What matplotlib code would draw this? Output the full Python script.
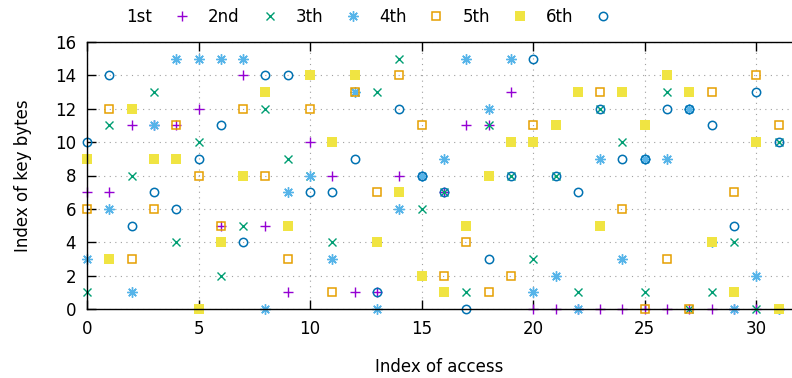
import numpy as np
import matplotlib
matplotlib.use("Agg")
import matplotlib.pyplot as plt

plt.rcParams['font.family'] = ['DejaVu Sans']
plt.rcParams['font.size'] = 12

access = list(range(32))

first = [7, 7, 11, 11, 11, 12, 5, 14, 5, 1, 10, 8, 1, 1, 8, 8,
         7, 11, 11, 13, 0, 0, 0, 0, 0, 0, 0, 0, 0, 0, 0, 0]
second = [1, 11, 8, 13, 4, 10, 2, 5, 12, 9, 8, 4, 13, 13, 15, 6,
          7, 1, 11, 8, 3, 8, 1, 12, 10, 1, 13, 0, 1, 4, 0, 10]
third = [3, 6, 1, 11, 15, 15, 15, 15, 0, 7, 8, 3, 13, 0, 6, 8,
         9, 15, 12, 15, 1, 2, 0, 9, 3, 9, 9, 12, 4, 0, 2, 0]
fourth = [6, 12, 3, 6, 11, 8, 5, 12, 8, 3, 12, 1, 13, 7, 14, 11,
          2, 4, 1, 2, 11, 11, 13, 13, 6, 0, 3, 0, 13, 7, 14, 11]
fifth = [9, 3, 12, 9, 9, 0, 4, 8, 13, 5, 14, 10, 14, 4, 7, 2,
         1, 5, 8, 10, 10, 11, 13, 5, 13, 11, 14, 13, 4, 1, 10, 0]
sixth = [10, 14, 5, 7, 6, 9, 11, 4, 14, 14, 7, 7, 9, 1, 12, 8,
         7, 0, 3, 8, 15, 8, 7, 12, 9, 9, 12, 12, 11, 5, 13, 10]

names = ['1st', '2nd', '3th', '4th', '5th', '6th']
series = [first, second, third, fourth, fifth, sixth]

# gnuplot-like point styles
styles = [
    dict(marker='+', color='#9400d3', ms=7, mew=1.0, mfc='none'),
    dict(marker='x', color='#009e73', ms=5.5, mew=1.0, mfc='none'),
    dict(marker=(8, 2, 0), color='#56b4e9', ms=7.5, mew=1.0, mfc='none'),
    dict(marker='s', color='#e69f00', ms=5.6, mew=1.1, mfc='none'),
    dict(marker='s', color='#f0e442', ms=6.6, mew=0, mfc='#f0e442'),
    dict(marker='o', color='#0072b2', ms=6, mew=1.1, mfc='none'),
]

fig = plt.figure(figsize=(7.92, 3.78), dpi=100)
ax = fig.add_axes([87 / 792, 69 / 378, 705 / 792, 267 / 378])

for name, vals, st in zip(names, series, styles):
    ax.plot(access, vals, linestyle='none', label=name, clip_on=False,
            marker=st['marker'], color=st['color'], markersize=st['ms'],
            markeredgewidth=st['mew'], markerfacecolor=st['mfc'],
            markeredgecolor=st['color'])

ax.set_xlim(0, 31.6)
ax.set_ylim(0, 16)
ax.set_xticks(range(0, 31, 5))
ax.set_yticks(range(0, 17, 2))
ax.grid(True, color='#a0a0a0', linestyle=(0, (1, 4)), linewidth=0.8)
ax.set_axisbelow(True)
ax.tick_params(direction='in', length=6.5, width=1, top=True, right=False,
               pad=8)
ax.spines['right'].set_visible(False)
for s in ['left', 'top', 'bottom']:
    ax.spines[s].set_linewidth(1)

ax.set_xlabel('Index of access', labelpad=14)
ax.set_ylabel('Index of key bytes', labelpad=16)

fig.legend(loc='upper left', bbox_to_anchor=(118 / 792, 1.0), ncol=6,
           frameon=False, markerfirst=False, handlelength=1.0,
           handletextpad=1.3, columnspacing=1.05, borderpad=0.0)

fig.savefig('out.png', dpi=100)
